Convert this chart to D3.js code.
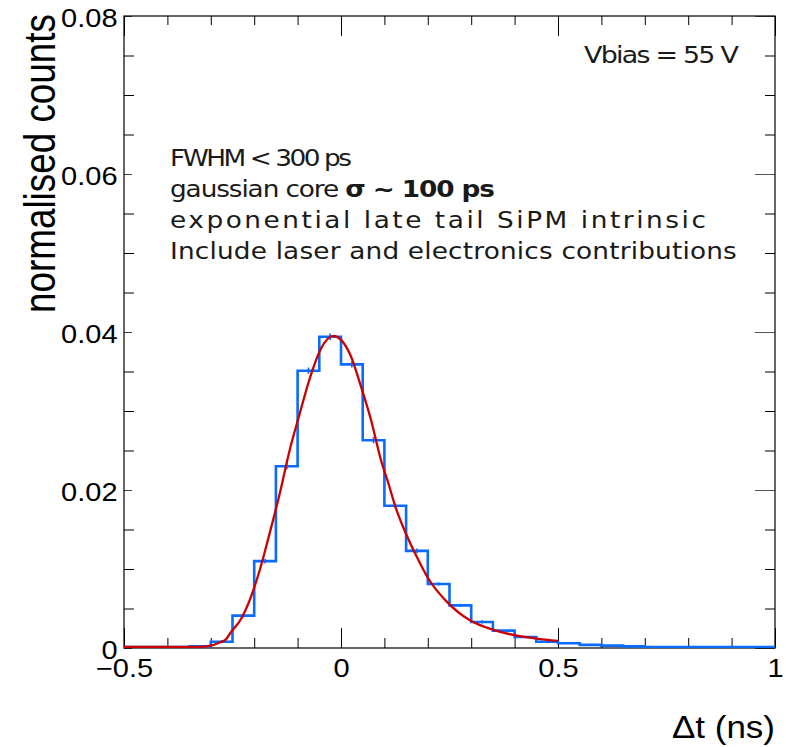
<!DOCTYPE html>
<html>
<head>
<meta charset="utf-8">
<script src="https://cdn.jsdelivr.net/npm/d3@7"></script>
<style>
  body { margin: 0; background: #fff; }
  text { font-family: "Liberation Sans", Arial, Helvetica, sans-serif; fill: #000; }
  .note { font-family: "DejaVu Sans", "Open Sans", sans-serif; fill: #1a1a1a; }
</style>
</head>
<body>
<svg id="chart" width="792" height="747"></svg>
<script>
// Timing histogram: lower edges of the 0.05 ns bins
const binLow = [-0.50, -0.45, -0.40, -0.35, -0.30, -0.25, -0.20, -0.15, -0.10, -0.05,
                 0.00,  0.05,  0.10,  0.15,  0.20,  0.25,  0.30,  0.35,  0.40,  0.45,
                 0.50,  0.55,  0.60,  0.65,  0.70,  0.75,  0.80,  0.85,  0.90,  0.95];
const binWidth = 0.05;
// normalised counts per bin
const binValues = [0.0000, 0.0000, 0.0001, 0.0002, 0.0008, 0.0041, 0.0110, 0.0230, 0.0351, 0.0394,
                   0.0359, 0.0263, 0.0180, 0.0123, 0.0081, 0.0054, 0.0033, 0.0022, 0.0014, 0.0008,
                   0.0006, 0.0004, 0.0003, 0.0002, 0.0001, 0.0001, 0.0001, 0.0001, 0.0001, 0.0001];
// statistical uncertainty per bin
const binErrors = [0.0000, 0.0000, 0.0001, 0.0001, 0.0002, 0.0002, 0.0003, 0.0004, 0.0004, 0.0004,
                   0.0004, 0.0004, 0.0003, 0.0003, 0.0002, 0.0002, 0.0002, 0.0001, 0.0001, 0.0001,
                   0.0001, 0.0001, 0.0001, 0.0000, 0.0000, 0.0000, 0.0000, 0.0000, 0.0000, 0.0000];

// Fitted response (gaussian core with exponential tail), sampled
const fitX = [-0.500, -0.360, -0.330, -0.300, -0.280, -0.265, -0.255, -0.230, -0.206, -0.187,
              -0.164, -0.141, -0.118, -0.095, -0.071, -0.048, -0.018,  0.000,  0.023,  0.046,
               0.069,  0.092,  0.110,  0.124,  0.151,  0.174,  0.201,  0.243,  0.297,  0.351,
               0.412,  0.450,  0.500];
const fitY = [0.0000, 0.0000, 0.0001, 0.0003, 0.0007, 0.0011, 0.0019, 0.0037, 0.0067, 0.0099,
              0.0146, 0.0196, 0.0251, 0.0297, 0.0343, 0.0377, 0.0395, 0.0390, 0.0369, 0.0331,
              0.0289, 0.0238, 0.0207, 0.0181, 0.0143, 0.0116, 0.0088, 0.0059, 0.0035, 0.0023,
              0.0015, 0.0012, 0.0009];

// Axis ticks and labels
const xMajorTicks = [-0.5, 0, 0.5, 1];
const xMinorTicks = [-0.4, -0.3, -0.2, -0.1, 0.1, 0.2, 0.3, 0.4, 0.6, 0.7, 0.8, 0.9];
const xTickLabels = ["\u22120.5", "0", "0.5", "1"];
const yMajorTicks = [0, 0.02, 0.04, 0.06, 0.08];
const yMinorTicks = [0.005, 0.01, 0.015, 0.025, 0.03, 0.035, 0.045, 0.05, 0.055, 0.065, 0.07, 0.075];
const yTickLabels = ["0", "0.02", "0.04", "0.06", "0.08"];
const xTitle = "\u0394t (ns)";
const yTitle = "normalised counts";
const vbiasText = "Vbias = 55 V";
const noteLines = [
  [{ t: "FWHM < 300 ps", b: false }],
  [{ t: "gaussian core ", b: false }, { t: "\u03c3 ~ 100 ps", b: true }],
  [{ t: "exponential late tail SiPM intrinsic", b: false }],
  [{ t: "Include laser and electronics contributions", b: false }]
];

const svg = d3.select("#chart");
const frameL = 124, frameR = 775, frameT = 16, frameB = 648;
const sq = 0.87; // vertical squash of the canvas lettering

const x = d3.scaleLinear().domain([-0.5, 1.0]).range([frameL, frameR]);
const y = d3.scaleLinear().domain([0, 0.08]).range([frameB, frameT]);

// ---- axes (ticks drawn inward on all four sides) ----
function styleAxis(g) {
  g.select(".domain").remove();
  g.selectAll(".tick line").attr("stroke", "#000").attr("stroke-width", 1);
}

// bottom
svg.append("g").attr("transform", `translate(0,${frameB})`)
  .call(d3.axisBottom(x).tickValues(xMinorTicks).tickSize(-10).tickSizeOuter(0).tickFormat(""))
  .call(styleAxis);
const xAxisG = svg.append("g").attr("transform", `translate(0,${frameB})`)
  .call(d3.axisBottom(x).tickValues(xMajorTicks).tickSize(-20).tickSizeOuter(0)
        .tickFormat((d, i) => xTickLabels[i]))
  .call(styleAxis);
xAxisG.selectAll(".tick text")
  .attr("dy", null).attr("y", 29 / sq)
  .attr("transform", `scale(1,${sq})`)
  .attr("font-size", 29).attr("fill", "#000")
  .attr("font-family", "Liberation Sans, Arial, sans-serif");

// top
svg.append("g").attr("transform", `translate(0,${frameT})`)
  .call(d3.axisTop(x).tickValues(xMinorTicks).tickSize(-9).tickSizeOuter(0).tickFormat(""))
  .call(styleAxis);
svg.append("g").attr("transform", `translate(0,${frameT})`)
  .call(d3.axisTop(x).tickValues(xMajorTicks).tickSize(-20).tickSizeOuter(0).tickFormat(""))
  .call(styleAxis);

// left
svg.append("g").attr("transform", `translate(${frameL},0)`)
  .call(d3.axisLeft(y).tickValues(yMinorTicks).tickSize(-10).tickSizeOuter(0).tickFormat(""))
  .call(styleAxis);
const yAxisG = svg.append("g").attr("transform", `translate(${frameL},0)`)
  .call(d3.axisLeft(y).tickValues(yMajorTicks).tickSize(-8).tickSizeOuter(0)
        .tickFormat((d, i) => yTickLabels[i]))
  .call(styleAxis);
yAxisG.selectAll(".tick line").attr("stroke", "#444");
yAxisG.selectAll(".tick text")
  .attr("dy", null).attr("x", -6.5).attr("y", 10.5 / sq)
  .attr("transform", `scale(1,${sq})`)
  .attr("text-anchor", "end")
  .attr("font-size", 29).attr("fill", "#000")
  .attr("font-family", "Liberation Sans, Arial, sans-serif");

// right
svg.append("g").attr("transform", `translate(${frameR},0)`)
  .call(d3.axisRight(y).tickValues(yMinorTicks).tickSize(-10).tickSizeOuter(0).tickFormat(""))
  .call(styleAxis);
svg.append("g").attr("transform", `translate(${frameR},0)`)
  .call(d3.axisRight(y).tickValues(yMajorTicks).tickSize(-20).tickSizeOuter(0).tickFormat(""))
  .call(styleAxis)
  .selectAll(".tick line").attr("stroke", "#555");

// frame
svg.append("rect")
  .attr("x", frameL).attr("y", frameT)
  .attr("width", frameR - frameL).attr("height", frameB - frameT)
  .attr("fill", "none").attr("stroke", "#000").attr("stroke-width", 1.2);

// ---- histogram ----
svg.append("clipPath").attr("id", "plotClip")
  .append("rect").attr("x", frameL).attr("y", frameT - 2)
  .attr("width", frameR - frameL).attr("height", frameB - frameT + 2);

const plot = svg.append("g").attr("clip-path", "url(#plotClip)");
const blue = "#0a6bff";
const red = "#cc0000";

const stepPts = binLow.map((lo, i) => [lo, binValues[i]]);
stepPts.push([binLow[binLow.length - 1] + binWidth, binValues[binValues.length - 1]]);
plot.append("path")
  .datum(stepPts)
  .attr("fill", "none").attr("stroke", blue).attr("stroke-width", 2.6)
  .attr("d", d3.line().x(d => x(d[0])).y(d => Math.min(y(d[1]), frameB - 1)).curve(d3.curveStepAfter));

// error bars at bin centres
plot.selectAll("line.err")
  .data(binLow.map((lo, i) => ({ c: lo + binWidth / 2, v: binValues[i], e: binErrors[i] }))
             .filter(d => d.e > 0))
  .join("line").attr("class", "err")
  .attr("x1", d => x(d.c)).attr("x2", d => x(d.c))
  .attr("y1", d => y(d.v - d.e)).attr("y2", d => y(d.v + d.e))
  .attr("stroke", blue).attr("stroke-width", 1.6);

// fitted curve
plot.append("path")
  .datum(fitX.map((v, i) => [v, fitY[i]]))
  .attr("fill", "none").attr("stroke", red).attr("stroke-width", 2.3)
  .attr("d", d3.line().x(d => x(d[0])).y(d => Math.min(y(d[1]), frameB - 1)).curve(d3.curveMonotoneX));

// ---- axis titles ----
svg.append("text")
  .attr("transform", `translate(775,738) scale(1,${sq})`)
  .attr("text-anchor", "end").attr("font-size", 35)
  .text(xTitle);

svg.append("text")
  .attr("transform", "translate(55,14) rotate(-90)")
  .attr("text-anchor", "end").attr("font-size", 44)
  .attr("textLength", 299).attr("lengthAdjust", "spacingAndGlyphs")
  .text(yTitle);

// ---- annotations ----
// Every line uses the same glyph size and a shared horizontal stretch;
// per-line letter spacing then brings each line to its width.
const noteX = 170;
const noteWidths = [182, 325, 536, 567];
const noteBase = [166, 197, 228, 259];
const noteSize = 23;

const noteEls = noteLines.map((parts, i) => {
  const t = svg.append("text").attr("class", "note")
    .attr("x", 0).attr("y", 0).attr("font-size", noteSize);
  parts.forEach(p => t.append("tspan").attr("font-weight", p.b ? 700 : 400).text(p.t));
  return t;
});
const vb = svg.append("text").attr("class", "note")
  .attr("x", 0).attr("y", 0).attr("font-size", noteSize + 0.5).text(vbiasText);

const natural = noteEls.map(t => t.node().getComputedTextLength());
const stretch = d3.mean(natural, (n, i) => noteWidths[i] / n);
noteEls.forEach((t, i) => {
  const chars = noteLines[i].reduce((s, p) => s + p.t.length, 0);
  const spacing = (noteWidths[i] / stretch - natural[i]) / (chars - 1);
  t.style("letter-spacing", `${spacing}px`)
   .attr("transform", `translate(${noteX},${noteBase[i]}) scale(${stretch},1)`);
});
const vbNat = vb.node().getComputedTextLength();
const vbSpacing = (155 / stretch - vbNat) / (vbiasText.length - 1);
vb.style("letter-spacing", `${vbSpacing}px`)
  .attr("transform", `translate(584,63) scale(${stretch},1)`);
</script>
</body>
</html>
